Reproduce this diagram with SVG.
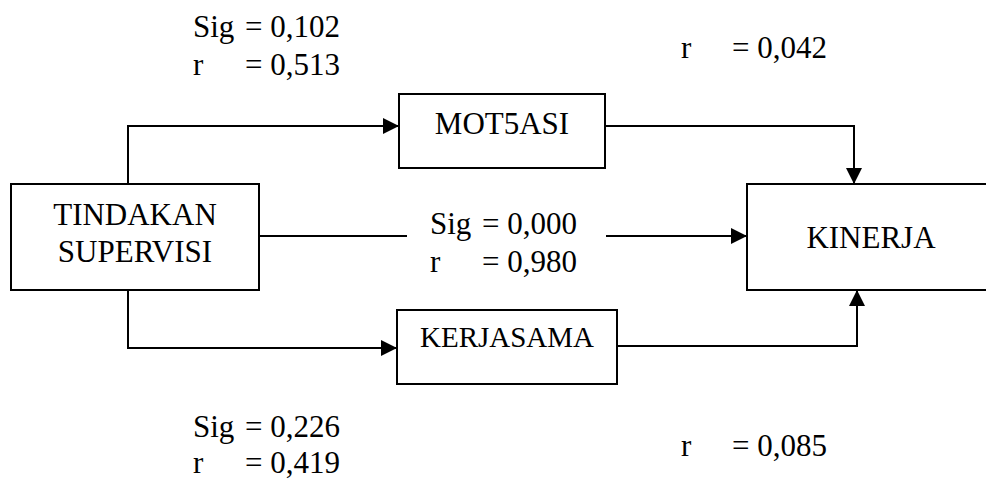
<svg xmlns="http://www.w3.org/2000/svg" width="986" height="481" viewBox="0 0 986 481">
<defs>
<style>
.box{fill:#fff;stroke:#000;stroke-width:2}
.ln{fill:none;stroke:#000;stroke-width:2}
.t{font-family:'Liberation Serif','Times New Roman',serif;font-size:31px;fill:#000}
.c{text-anchor:middle}
</style>
<marker id="ah" viewBox="0 0 16 16" refX="16" refY="8" markerWidth="16" markerHeight="16" markerUnits="userSpaceOnUse" orient="auto">
<path d="M0,0 L16,8 L0,16 Z" fill="#000"/>
</marker>
</defs>
<rect width="986" height="481" fill="#fff"/>
<g id="connectors">
<path class="ln" d="M128,184 V126 H399" marker-end="url(#ah)"/>
<path class="ln" d="M605,126 H854 V184" marker-end="url(#ah)"/>
<path class="ln" d="M259,236 H407"/>
<path class="ln" d="M606,236 H747" marker-end="url(#ah)"/>
<path class="ln" d="M128,290 V348 H397" marker-end="url(#ah)"/>
<path class="ln" d="M617,346 H857 V290" marker-end="url(#ah)"/>
</g>
<g id="tindakan">
<rect class="box" x="11" y="184" width="248" height="106"/>
<text class="t c" x="135" y="225">TINDAKAN</text>
<text class="t c" x="135" y="262">SUPERVISI</text>
</g>
<g id="motivasi">
<rect class="box" x="399" y="94" width="206" height="74"/>
<text class="t c" x="502" y="134">MOT5ASI</text>
</g>
<g id="kerjasama">
<rect class="box" x="397" y="310" width="220" height="74"/>
<text class="t c" x="507" y="347" style="font-size:29px">KERJASAMA</text>
</g>
<g id="kinerja">
<rect class="box" x="747" y="184" width="260" height="106"/>
<text class="t c" x="871" y="248">KINERJA</text>
</g>
<g id="labels" class="t">
<text x="193" y="37">Sig</text><text x="245" y="37">= 0,102</text>
<text x="193" y="75">r</text><text x="245" y="75">= 0,513</text>
<text x="681" y="58">r</text><text x="732" y="58">= 0,042</text>
<text x="430" y="234">Sig</text><text x="482" y="234">= 0,000</text>
<text x="430" y="272">r</text><text x="482" y="272">= 0,980</text>
<text x="193" y="437">Sig</text><text x="245" y="437">= 0,226</text>
<text x="193" y="473">r</text><text x="245" y="473">= 0,419</text>
<text x="681" y="456">r</text><text x="732" y="456">= 0,085</text>
</g>
</svg>
